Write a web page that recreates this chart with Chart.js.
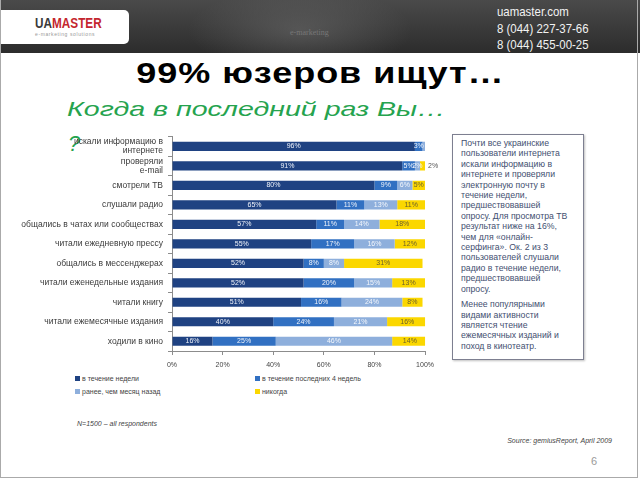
<!DOCTYPE html>
<html>
<head>
<meta charset="utf-8">
<script src="https://cdn.jsdelivr.net/npm/chart.js@4.4.1/dist/chart.umd.min.js"></script>
<style>
    html, body { margin: 0; padding: 0; background: #fff; }
    #slide { position: relative; width: 640px; height: 480px; overflow: hidden; font-family: "Liberation Sans", Arial, sans-serif; }
    #frame { position: absolute; left: 0; top: 0; width: 638px; height: 478px; border-left: 1px solid #aaa; border-right: 1px solid #aaa; border-bottom: 1px solid #aaa; box-sizing: border-box; }
    #banner { position: absolute; left: 0; top: 0; width: 640px; height: 53px;
        background: radial-gradient(ellipse 160px 60px at 300px 30px, rgba(120,120,120,0.45), rgba(0,0,0,0) 70%),
                    linear-gradient(#4a4a4a, #2c2c2c); }
    #logo { position: absolute; left: 0; top: 10px; width: 129px; height: 34px; background: #fff; border-radius: 0 5px 5px 0; }
    #logo .name { position: absolute; left: 35px; top: 5px; font: bold 14px "Liberation Sans", Arial, sans-serif; color: #3a3a3a; transform: scaleX(0.84); transform-origin: left; }
    #logo .name span { color: #c4262e; }
    #logo .sub { position: absolute; left: 35px; top: 21px; font: 5px "Liberation Sans", Arial, sans-serif; color: #999; letter-spacing: 0.6px; }
    #emk { position: absolute; left: 290px; top: 28px; font: 8px "Liberation Serif", serif; color: #777; }
    #contacts { position: absolute; left: 497px; top: 4px; font: 13px/16.5px "Liberation Sans", Arial, sans-serif; color: #f2f2f2; transform: scaleX(0.88); transform-origin: left; }
    #title { position: absolute; left: 0; top: 56px; width: 640px; text-align: center; font: bold 30px "Liberation Sans", Arial, sans-serif; color: #000; letter-spacing: 0.8px; transform: scaleX(1.2); transform-origin: 318px 0; }
    #subtitle { position: absolute; left: 67px; top: 97px; font: italic 21px "Liberation Sans", Arial, sans-serif; color: #25a34e; transform: scaleX(1.36); transform-origin: left; white-space: nowrap; }
    #qmark { position: absolute; left: 68px; top: 131px; font: italic 22px "Liberation Sans", Arial, sans-serif; color: #25a34e; }
    #chart-box { position: absolute; left: 15px; top: 127px; width: 425px; height: 246px; }
    #legend { position: absolute; left: 75px; top: 375px; font: 7px "Liberation Sans", Arial, sans-serif; color: #444; }
    #legend .item { position: absolute; white-space: nowrap; }
    #legend .sw { display: inline-block; width: 5px; height: 5px; margin-right: 2px; vertical-align: 0px; }
    #note { position: absolute; left: 452px; top: 134px; width: 132px; height: 226px; border: 1.5px solid #7d7f90; box-sizing: border-box;
        padding: 3px 0 0 8px; font: 8.7px/10.4px "Liberation Sans", Arial, sans-serif; color: #434f70; box-shadow: 1px 1px 2px rgba(0,0,0,0.25); white-space: nowrap; }
    #note p { margin: 0 0 5px 0; }
    #base { position: absolute; left: 77px; top: 420px; font: italic 7px "Liberation Sans", Arial, sans-serif; color: #444; }
    #source { position: absolute; right: 28px; top: 437px; font: italic 7px "Liberation Sans", Arial, sans-serif; color: #444; }
    #page { position: absolute; left: 591px; top: 455px; font: 11px "Liberation Sans", Arial, sans-serif; color: #9a9a9a; }
</style>
</head>
<body>
<div id="slide">
    <div id="banner">
        <div id="logo">
            <div class="name">UA<span>MASTER</span></div>
            <div class="sub">e-marketing solutions</div>
        </div>
        <div id="emk">e-marketing</div>
        <div id="contacts">uamaster.com<br>8 (044) 227-37-66<br>8 (044) 455-00-25</div>
    </div>
    <div id="frame"></div>

    <div id="title">99% юзеров ищут…</div>
    <div id="subtitle">Когда в последний раз Вы…</div>
    <div id="qmark">?</div>

    <div id="chart-box"><canvas id="chart"></canvas></div>

    <div id="legend"></div>

    <div id="note">
        <p>Почти все украинские<br>пользователи интернета<br>искали информацию в<br>интернете и проверяли<br>электронную почту в<br>течение недели,<br>предшествовавшей<br>опросу. Для просмотра ТВ<br>результат ниже на 16%,<br>чем для «онлайн-<br>серфинга». Ок. 2 из 3<br>пользователей слушали<br>радио в течение недели,<br>предшествовавшей<br>опросу.</p>
        <p>Менее популярными<br>видами активности<br>является чтение<br>ежемесячных изданий и<br>поход в кинотеатр.</p>
    </div>

    <div id="base">N=1500 – all respondents</div>
    <div id="source">Source: gemiusReport, April 2009</div>
    <div id="page">6</div>
</div>

<script>
// Data (percent of respondents)
const categories = [
    ['искали информацию в', 'интернете'],
    ['проверяли', 'e-mail'],
    'смотрели ТВ',
    'слушали радио',
    'общались в чатах или сообществах',
    'читали ежедневную прессу',
    'общались в мессенджерах',
    'читали еженедельные издания',
    'читали книгу',
    'читали ежемесячные издания',
    'ходили в кино'
];
const seriesNames = ['в течение недели', 'в течение последних 4 недель', 'ранее, чем месяц назад', 'никогда'];
const lastWeek   = [96, 91, 80, 65, 57, 55, 52, 52, 51, 40, 16];
const last4Weeks = [3, 5, 9, 11, 11, 17, 8, 20, 16, 24, 25];
const earlier    = [1, 2, 6, 13, 14, 16, 8, 15, 24, 21, 46];
const never      = [0, 2, 5, 11, 18, 12, 31, 13, 8, 16, 14];
const xTicks = [0, 20, 40, 60, 80, 100];

const colors = ['#1f4282', '#3170c2', '#8eafdc', '#fbd700'];
const labelColors = ['#eef2fa', '#eef2fa', '#f4f7fc', '#6b5f2a'];
const FONT = '"Liberation Sans", Arial, sans-serif';

// percentages written on the bars
const barLabels = {
    id: 'barLabels',
    afterDatasetsDraw(chart) {
        const ctx = chart.ctx;
        const last = chart.data.datasets.length - 1;
        ctx.save();
        ctx.font = '7px ' + FONT;
        ctx.textBaseline = 'middle';
        chart.data.datasets.forEach((ds, i) => {
            const meta = chart.getDatasetMeta(i);
            meta.data.forEach((bar, j) => {
                const v = ds.data[j];
                if (v < 2) return;
                const w = Math.abs(bar.x - bar.base);
                if (i === last && w < 8) {
                    ctx.textAlign = 'left';
                    ctx.fillStyle = '#555';
                    ctx.fillText(v + '%', bar.x + 3, bar.y);
                } else {
                    ctx.textAlign = 'center';
                    ctx.fillStyle = labelColors[i];
                    ctx.fillText(v + '%', (bar.x + bar.base) / 2, bar.y);
                }
            });
        });
        ctx.restore();
    }
};

const seriesData = [lastWeek, last4Weeks, earlier, never];

new Chart(document.getElementById('chart'), {
    type: 'bar',
    data: {
        labels: categories,
        datasets: seriesData.map((d, i) => ({
            label: seriesNames[i],
            data: d,
            backgroundColor: colors[i],
            borderWidth: 0,
            barPercentage: 0.47,
            categoryPercentage: 1
        }))
    },
    options: {
        indexAxis: 'y',
        responsive: true,
        maintainAspectRatio: false,
        animation: false,
        layout: { padding: { top: 6, right: 13, left: 0, bottom: 0 } },
        plugins: { legend: { display: false }, tooltip: { enabled: false } },
        scales: {
            x: {
                stacked: true,
                min: 0,
                max: 100,
                afterBuildTicks: (scale) => { scale.ticks = xTicks.map(v => ({ value: v })); },
                afterFit: (scale) => { scale.height = 22; },
                border: { display: true, color: '#8c8c8c' },
                grid: { drawOnChartArea: false, drawTicks: true, tickLength: 4, color: '#8c8c8c' },
                ticks: { padding: 6, maxRotation: 0, color: '#444', font: { size: 7, family: FONT }, callback: v => v + '%' }
            },
            y: {
                stacked: true,
                afterFit: (scale) => { scale.width = 157; },
                border: { display: true, color: '#8c8c8c' },
                grid: { drawOnChartArea: false, drawTicks: true, tickLength: 4, color: '#8c8c8c', offset: true },
                ticks: { autoSkip: false, padding: 5, color: '#3a3a3a', font: { size: 8.5, family: FONT, lineHeight: 1.1 } }
            }
        }
    },
    plugins: [barLabels]
});

// legend in two columns like the original
const legend = document.getElementById('legend');
seriesNames.forEach((name, i) => {
    const item = document.createElement('div');
    item.className = 'item';
    item.style.left = (i % 2 === 0 ? 0 : 180) + 'px';
    item.style.top = (Math.floor(i / 2) * 13) + 'px';
    item.innerHTML = '<span class="sw" style="background:' + colors[i] + '"></span>' + name;
    legend.appendChild(item);
});
</script>
</body>
</html>
